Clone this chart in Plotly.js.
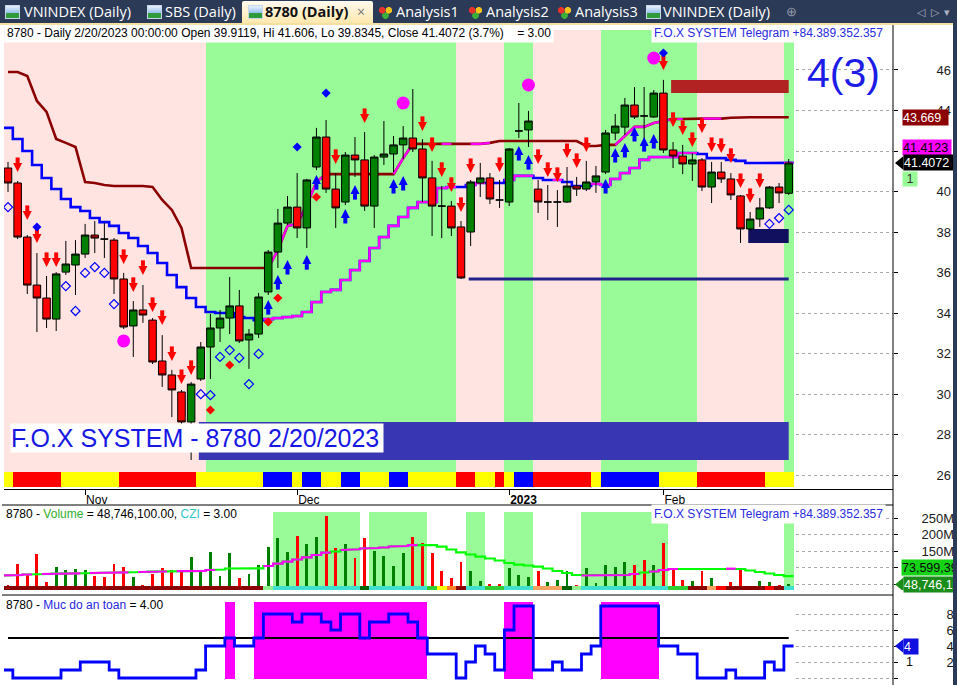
<!DOCTYPE html>
<html>
<head>
<meta charset="utf-8">
<title>8780 (Daily)</title>
<script src="https://cdn.plot.ly/plotly-3.0.1.min.js"></script>
<style>
  html, body { margin:0; padding:0; background:#fff; overflow:hidden; }
  #wrap { position:relative; width:957px; height:685px; overflow:hidden; }
  #chart { position:absolute; left:0; top:0; width:957px; height:685px; }
  #tabs { position:absolute; left:0; top:0; width:957px; height:23px; background:#2b3a56; z-index:3;
          font-family:"Open Sans","Noto Sans",sans-serif; font-size:14.5px; color:#fff; }
  #tabs .tx { position:absolute; top:0; line-height:23px; white-space:nowrap; }
  #tabs .b { font-weight:700; color:#111; }
  #tabs .ico { position:absolute; top:5px; width:15px; height:14px; box-sizing:border-box; }
  #tabs .chartico { background:linear-gradient(to top,#2f9a3a 0,#2f9a3a 38%,#8fbbee 38%,#e8f1fc 100%); border:1px solid #c9d6e8; }
  #tabs .gemico { background:
      radial-gradient(circle at 28% 38%, #e8322c 0, #e8322c 3px, transparent 3.6px),
      radial-gradient(circle at 72% 38%, #f6c21c 0, #f6c21c 3px, transparent 3.6px),
      radial-gradient(circle at 50% 76%, #3cae3a 0, #3cae3a 3px, transparent 3.6px); }
  #tabs .active { position:absolute; top:1px; height:22px; background:linear-gradient(#fffaf0,#ffe8ad); border-radius:2px 2px 0 0; }
  #topline { position:absolute; left:0; top:23px; width:957px; height:2px; background:#f6dfa2; z-index:3; }
  #edge { position:absolute; left:953px; top:23px; width:4px; height:662px; background:#2b3a56; z-index:3; }
</style>
</head>
<body>
<div id="wrap">
  <div id="chart"></div>
  <div id="tabs">
    <div class="ico chartico" style="left:5px"></div><span class="tx" style="left:24px">VNINDEX (Daily)</span>
    <div class="ico chartico" style="left:147px"></div><span class="tx" style="left:165px">SBS (Daily)</span>
    <div class="active" style="left:242px;width:131px"></div>
    <div class="ico chartico" style="left:248px"></div><span class="tx b" style="left:265px">8780 (Daily)</span>
    <span class="tx" style="left:357px;color:#777;font-size:14px">×</span>
    <div class="ico gemico" style="left:378px"></div><span class="tx" style="left:396px">Analysis1</span>
    <div class="ico gemico" style="left:468px"></div><span class="tx" style="left:486px">Analysis2</span>
    <div class="ico gemico" style="left:557px"></div><span class="tx" style="left:575px">Analysis3</span>
    <div class="ico chartico" style="left:646px"></div><span class="tx" style="left:663px">VNINDEX (Daily)</span>
    <span class="tx" style="left:786px;color:#8d96a8;font-size:13px">⊕</span>
    <span class="tx" style="left:917px;color:#aab2c2;font-size:11px">◁&nbsp;&nbsp;▷&nbsp;&nbsp;▾</span>
  </div>
  <div id="topline"></div>
  <div id="edge"></div>
</div>
<script>
// ---------- daily bars 8780 (20 Oct 2022 .. 20 Feb 2023) ----------
const openP = [41.16,40.42,37.75,35.38,34.74,33.70,36.02,36.37,36.91,37.85,
  37.65,37.60,35.68,33.36,34.15,33.65,31.63,30.94,30.10,28.62,
  30.74,32.32,33.26,33.75,34.35,32.67,32.96,35.04,37.01,38.44,
  39.23,38.20,41.21,42.69,40.12,39.48,41.80,41.56,39.28,41.70,
  41.85,42.30,42.64,42.10,40.67,39.28,39.28,38.25,38.00,40.42,
  40.67,39.58,39.48,42.99,43.04,40.12,39.48,39.48,39.48,40.27,
  40.12,40.47,40.96,42.89,43.18,44.27,43.73,43.68,44.86,42.05,
  41.75,41.36,41.56,40.22,40.96,40.62,39.78,38.15,38.64,39.19,
  40.22,39.9119];
const highP = [41.46,40.52,37.85,36.96,35.83,36.02,37.56,37.60,38.40,38.54,
  38.44,37.70,35.98,34.59,35.38,33.75,32.91,31.19,30.20,30.59,
  32.57,33.95,34.15,35.78,35.14,33.21,34.99,37.11,39.14,39.78,
  40.91,40.62,43.14,43.53,40.91,41.95,42.69,42.94,41.80,43.48,
  42.74,43.23,45.06,42.59,41.51,40.27,39.53,38.54,40.57,41.41,
  40.91,40.57,42.15,44.37,43.98,40.57,40.32,40.07,41.21,40.72,
  41.51,41.26,43.04,43.83,44.62,45.16,45.16,45.01,45.51,42.44,
  42.30,41.90,41.65,41.46,41.46,40.91,39.83,38.99,39.68,40.27,
  40.42,41.606];
const lowP = [39.98,37.65,34.94,33.06,33.26,33.11,35.88,34.89,36.72,36.96,
  36.72,34.94,33.21,31.83,33.51,31.48,30.35,28.86,28.52,26.74,
  30.64,30.74,32.57,32.96,32.52,31.24,32.77,34.89,36.22,38.35,
  37.70,37.21,41.06,39.93,38.20,39.33,40.72,39.04,38.20,41.31,
  40.96,41.60,41.95,39.48,37.80,37.70,37.80,35.68,37.31,39.73,
  39.38,39.19,39.28,42.64,42.20,38.94,38.59,38.25,39.43,39.78,
  40.02,39.93,40.86,42.54,42.79,43.58,42.35,43.63,41.90,41.16,
  40.86,40.52,40.02,39.43,40.42,39.58,37.46,38.05,38.25,39.14,
  39.43,39.8345];
const closeP = [40.42,37.75,35.38,34.74,33.70,35.93,36.42,36.91,37.85,37.70,
  37.65,35.68,33.31,34.15,33.90,31.58,30.94,30.20,28.62,30.49,
  32.32,33.26,33.75,34.35,32.62,32.96,34.79,37.01,38.44,39.23,
  38.20,40.57,42.69,40.12,39.19,41.80,41.56,39.28,41.70,41.85,
  42.30,42.64,42.10,40.67,39.28,39.28,38.20,35.73,40.47,40.67,
  39.63,39.58,42.10,42.99,43.48,39.48,39.48,39.48,40.27,40.12,
  40.47,40.77,42.89,43.23,44.27,43.68,43.73,44.86,42.05,41.75,
  41.36,41.56,40.22,40.96,40.62,39.83,38.15,38.64,39.19,40.22,
  39.93,41.4072];

// trailing resistance / support lines
const upperLine = [45.90,45.90,45.70,44.47,43.93,42.59,42.40,42.20,40.47,40.42,
  40.32,40.27,40.27,40.27,40.27,40.22,39.58,39.09,38.20,36.22,
  36.22,36.22,36.22,36.22,36.22,36.22,36.22,36.22,37.11,38.30,
  38.40,39.33,40.47,40.86,40.86,40.86,40.86,40.86,40.86,40.86,
  40.86,41.65,42.35,42.35,42.35,42.35,42.35,42.35,42.35,42.35,
  42.40,42.49,42.49,42.49,42.49,42.49,42.49,42.49,42.49,42.49,
  42.25,42.25,42.30,42.30,42.74,43.19,43.19,43.38,43.48,43.58,
  43.58,43.60,43.60,43.60,43.60,43.64,43.669,43.669,43.669,43.669,
  43.669,43.669];
const upperMagentaSeg = [28,29,31,32,33,41,42,46,49,50,64,65,66,67,68,69,70,73,74];
const lowerLine = [43.14,42.59,42.00,41.31,40.67,40.12,39.63,39.23,39.04,38.69,
  38.49,38.30,37.95,37.70,37.31,36.96,36.47,35.88,35.28,34.74,
  34.30,34.05,34.00,34.00,33.80,33.75,33.65,33.70,33.75,33.80,
  33.85,34.05,34.54,35.04,35.14,35.63,36.12,36.57,37.21,37.75,
  38.30,38.74,39.19,39.48,39.48,40.17,40.22,40.22,40.32,40.42,
  40.42,40.42,40.57,40.77,40.77,40.67,40.57,40.57,40.47,40.27,
  40.27,40.37,40.32,40.62,40.91,41.16,41.56,41.70,41.70,41.70,
  41.90,41.90,41.85,41.65,41.65,41.56,41.51,41.41,41.41,41.41,
  41.41,41.4123];
const lowerMagentaRuns = [[27,46],[48,49],[52,54],[57,57],[61,71],[81,81]];

// background state per bar (g = green, p = pink) and trend ribbon (Y/R/B)
const mainBandRuns = [['p',21],['g',26],['p',5],['g',3],['p',7],['g',10],['p',9],['g',1]];
const mainStripRuns = [['Y',1],['R',5],['Y',6],['R',8],['Y',7],['B',3],['Y',1],['B',2],['Y',2],['B',2],
  ['Y',3],['B',2],['Y',5],['R',2],['Y',2],['R',1],['Y',1],['B',2],['R',6],['Y',1],['B',6],['Y',4],['R',7],['Y',3]];

// signals
const sellBars  = [1,2,3,4,5,12,13,14,15,16,17,18,19,34,37,43,44,45,46,47,48,51,55,56,57,58,59,60,68,69,70,71,72,73,74,75,76,77,78];
const sellLevel = [40.96,38.59,37.46,36.27,36.27,36.42,35.04,35.88,34.05,33.41,31.63,30.49,30.94,41.36,43.38,42.99,41.95,40.72,39.98,38.99,
  40.91,40.96,41.36,40.72,40.47,41.65,41.16,41.95,46.00,43.19,42.79,42.20,42.89,41.95,41.90,41.41,40.17,39.43,40.17];
const buyBars  = [27,28,29,31,32,35,36,40,41,53,54,62,63,64,65,66,67];
const buyLevel = [34.64,35.88,36.62,36.86,40.81,39.14,40.32,40.62,40.77,42.25,41.80,40.62,42.15,42.40,43.19,42.69,42.84];
const ringBars  = [0,6,7,8,9,10,11,20,21,22,23,24,25,26,79,80,81];
const ringLevel = [39.23,35.33,34.10,35.98,36.27,35.98,34.44,29.99,29.94,31.83,32.17,31.78,30.49,31.98,38.40,38.69,39.09];
const blueDotBars = [3,30,33,68],  blueDotLevel = [38.25,42.20,44.86,46.84];
const redDotBars  = [21,23,27,28,32], redDotLevel = [29.21,31.43,33.56,34.74,39.73];
const pinkDotBars = [12,41,54,67], pinkDotLevel = [32.62,44.37,45.26,46.59];

// bars that anchor the zones
const zoneBars = { demandLow: 19, supportLine: 47, supply: 68, demand: 76 };

// volume panel (millions of shares)
const vol = [47,110,77,141,55,102,92,95,92,74, 72,110,102,72,47,80,97,92,92,133,
  92,148,75,143,69,80,108,163,190,146, 195,171,191,256,158,171,128,188,150,135,
  105,143,191,173,143,89,67,116,89,60, 50,49,99,77,71,89,55,62,89,47,
  99,52,108,102,118,108,123,108,173,97, 62,59,89,69,36,55,95,40,59,55,
  47,48.7461];
const volUp = [0,0,0,0,0,1,1,1,1,0, 0,0,0,1,0,0,0,0,0,1, 1,1,1,1,0,1,1,1,1,1,
  0,1,1,0,0,1,0,0,1,1, 1,1,0,0,0,0,0,0,1,1, 0,0,1,1,1,0,1,1,1,0,
  1,1,1,1,1,0,0,1,0,0, 0,1,0,1,0,0,0,1,1,1, 0,1];
const volMA = [75.8,77.3,78.8,80.3,80.3,81.2,81.8,82.4,83.3,83.3, 84.2,84.8,85.5,86.4,86.4,87.3,87.9,88.5,88.8,89.4,
  89.4,92.4,93.9,97.0,97.6,97.6,97.6,104.5,112.0,117.6, 124.2,130.9,137.9,144.8,148.5,153.0,155.2,157.6,159.0,160.6,
  163.6,165.0,168.0,169.7,168.0,163.0,154.5,146.0,139.4,132.7, 127.3,121.2,113.6,109.0,106.0,102.4,97.0,89.4,83.3,77.3,
  75.8,75.2,75.2,75.2,77.3,80.3,84.8,87.9,92.4,95.5, 97.0,97.6,97.6,97.6,97.0,96.4,95.5,90.9,86.4,81.8,
  77.3,73.599394];
const volMAMagentaRuns = [[0,2],[4,7],[9,12],[14,16],[18,21],[27,33],[35,42],[60,65],[67,69],[75,75]];
const volBandRuns = [['w',28],['g',9],['w',1],['g',6],['w',4],['g',2],['w',2],['g',3],['w',5],['g',9],['w',12],['g',1]];
const volStripRuns = [['DR',27],['LG',1],['TQ',9],['DG',1],['TQ',6],['LM',1],['YE',1],['OR',1],['DR',1],['TQ',2],
  ['LM',2],['TQ',3],['SA',3],['DG',1],['LG',1],['TQ',9],['LM',2],['DR',2],['SA',1],['RE',1],['DR',4],['RE',1],['DR',1],['TQ',1]];
const volTicks = [50, 100, 150, 200, 250];
const volTickText = ['50M', '100M', '150M', '200M', '250M'];

// safety level panel
const safety = [1,0,0,0,0,0,1,1,2,2, 2,1,0,0,0,0,0,0,0,0, 1,4,4,5,4,4,5,8,8,8,
  7,8,8,7,6,8,8,5,7,7, 8,8,7,5,3,3,3,0,2,4, 3,1,6,9,9,1,1,2,1,1,
  3,4,9,9,9,9,9,9,4,4, 3,3,0,0,0,1,0,0,0,2, 1,4];
const safetyThreshold = 5;

// axis labels
const monthTickBars = [8, 30, 52, 68];
const monthTickText = ['Nov', 'Dec', '<b>2023</b>', 'Feb'];

// ---------- helpers ----------
const N = openP.length, last = N - 1;
const bars = openP.map((_, i) => i);
const expand = runs => runs.flatMap(([c, n]) => Array(n).fill(c));
const runsMask = runs => bars.map(i => runs.some(([a, b]) => i >= a && i <= b));
function stair(vals, mask) {           // horizontal step per bar, vertical jumps at bar edges
  const x = [], y = [];
  for (let i = 0; i < vals.length; i++) {
    if (!mask[i]) { if (x.length && x[x.length - 1] !== null) { x.push(null); y.push(null); } continue; }
    x.push(i - 0.5, i + 0.5); y.push(vals[i], vals[i]);
  }
  return { x, y };
}
const PX = px => px / 957, PY = py => (685 - py) / 685;
const FONT = 'Liberation Sans, Arial, sans-serif';

const BAND = { g: '#98FB98', p: '#FFE4E1', w: '#FFFFFF' };
const RIB = { Y: '#FFFF00', R: '#FF0000', B: '#0000FF' };
const VSTRIP = { DR: '#8B0000', LG: '#90EE90', TQ: '#40E0D0', DG: '#006400', LM: '#32CD32',
                 YE: '#FFFF00', OR: '#FF7F27', SA: '#F4A460', RE: '#FF0000' };

// ---------- axes ----------
const xr = [-0.415, 91.82];
const mainRange = [25.309, 47.975];
const volRange = [31.82, 289.4];
const safRange = [-0.875, 10.375];
const ribbonBase = 25.41, ribbonTop = 26.15;
const volBandTop = 268.2, volStripTop = 43.9;
const pxPerUnitMain = 20.25, pxPerMVol = 0.33, pxPerUnitSaf = 8;

const traces = [];

// main panel background bands and trend ribbon
const mainBand = expand(mainBandRuns);
traces.push({ type: 'bar', x: bars, base: ribbonTop, y: bars.map(() => mainRange[1] + 1 - ribbonTop), width: 1,
  marker: { color: mainBand.map(c => BAND[c]), line: { width: 0 } }, xaxis: 'x', yaxis: 'y', hoverinfo: 'skip' });
traces.push({ type: 'bar', x: bars, base: ribbonBase, y: bars.map(() => ribbonTop - ribbonBase), width: 1,
  marker: { color: expand(mainStripRuns).map(c => RIB[c]), line: { width: 0 } }, xaxis: 'x', yaxis: 'y', hoverinfo: 'skip' });

// zones
function zone(bar, top, bottom, color) {
  const x0 = bar + 0.8, x1 = last;
  traces.push({ type: 'scatter', mode: 'lines', x: [x0, x1, x1, x0, x0], y: [top, top, bottom, bottom, top],
    fill: 'toself', fillcolor: color, line: { width: 0 }, xaxis: 'x', yaxis: 'y', hoverinfo: 'skip' });
}
zone(zoneBars.demandLow, openP[zoneBars.demandLow], lowP[zoneBars.demandLow], '#3836B2');
zone(zoneBars.supply, highP[zoneBars.supply], openP[zoneBars.supply], '#B22222');
zone(zoneBars.demand, closeP[zoneBars.demand], lowP[zoneBars.demand], '#10105E');
traces.push({ type: 'scatter', mode: 'lines', x: [zoneBars.supportLine + 0.8, last],
  y: [lowP[zoneBars.supportLine], lowP[zoneBars.supportLine]], line: { color: '#22228C', width: 3 },
  xaxis: 'x', yaxis: 'y', hoverinfo: 'skip' });

// trailing lines
traces.push({ type: 'scatter', mode: 'lines', x: bars, y: upperLine, line: { color: '#8B0000', width: 2.6 },
  xaxis: 'x', yaxis: 'y', hoverinfo: 'skip' });
const segSet = new Set(upperMagentaSeg);
traces.push({ type: 'scatter', mode: 'lines', x: bars,
  y: upperLine.map((v, j) => (segSet.has(j) || segSet.has(j + 1)) ? v : null),
  line: { color: '#FF00FF', width: 2.2 }, connectgaps: false, xaxis: 'x', yaxis: 'y', hoverinfo: 'skip' });
const lowAll = stair(lowerLine, bars.map(() => true));
traces.push({ type: 'scatter', mode: 'lines', x: lowAll.x, y: lowAll.y, line: { color: '#0000FF', width: 2.6 },
  xaxis: 'x', yaxis: 'y', hoverinfo: 'skip' });
const lowMag = stair(lowerLine, runsMask(lowerMagentaRuns));
traces.push({ type: 'scatter', mode: 'lines', x: lowMag.x, y: lowMag.y, line: { color: '#FF00FF', width: 2.2 },
  xaxis: 'x', yaxis: 'y', hoverinfo: 'skip' });

// candles (overlay axis so they sit above the lines)
traces.push({ type: 'candlestick', x: bars, open: openP, high: highP, low: lowP, close: closeP,
  xaxis: 'x', yaxis: 'y4', whiskerwidth: 0, hoverinfo: 'skip',
  increasing: { line: { color: '#000', width: 1 }, fillcolor: '#008000' },
  decreasing: { line: { color: '#000', width: 1 }, fillcolor: '#FF0000' } });

// signal markers
const stemOff = 11.8 / pxPerUnitMain;
function mk(x, y, symbol, size, color) {
  traces.push({ type: 'scatter', mode: 'markers', x, y, xaxis: 'x', yaxis: 'y4', hoverinfo: 'skip',
    marker: { symbol, size, color, line: { width: 0 } } });
}
mk(sellBars, sellLevel, 'arrow-down', 9, '#FF0000');
traces.push({ type: 'scatter', mode: 'markers', x: sellBars, y: sellLevel.map(v => v + stemOff), xaxis: 'x', yaxis: 'y4',
  hoverinfo: 'skip', marker: { symbol: 'line-ns', size: 4, line: { color: '#FF0000', width: 4 } } });
mk(buyBars, buyLevel, 'arrow-up', 9, '#0000FF');
traces.push({ type: 'scatter', mode: 'markers', x: buyBars, y: buyLevel.map(v => v - stemOff), xaxis: 'x', yaxis: 'y4',
  hoverinfo: 'skip', marker: { symbol: 'line-ns', size: 4, line: { color: '#0000FF', width: 4 } } });
traces.push({ type: 'scatter', mode: 'markers', x: ringBars, y: ringLevel, xaxis: 'x', yaxis: 'y4', hoverinfo: 'skip',
  marker: { symbol: 'diamond-open', size: 7, color: '#0000FF', line: { color: '#0000FF', width: 1.2 } } });
mk(blueDotBars, blueDotLevel, 'diamond', 7, '#0000FF');
mk(redDotBars, redDotLevel, 'diamond', 7, '#FF0000');
mk(pinkDotBars, pinkDotLevel, 'circle', 13, '#FF00FF');

// ---------- volume panel ----------
traces.push({ type: 'bar', x: bars, base: volRange[0], y: bars.map(() => volRange[1] - volRange[0] + 5), width: 1,
  marker: { color: '#FFFFFF', line: { width: 0 } }, xaxis: 'x2', yaxis: 'y2', hoverinfo: 'skip' });
traces.push({ type: 'bar', x: bars, base: volRange[0], y: bars.map(() => volBandTop - volRange[0]), width: 1,
  marker: { color: expand(volBandRuns).map(c => BAND[c]), line: { width: 0 } }, xaxis: 'x2', yaxis: 'y2', hoverinfo: 'skip' });
traces.push({ type: 'bar', x: bars, y: vol, width: 0.3,
  marker: { color: volUp.map(u => u ? '#008000' : '#FF0000'), line: { width: 0 } }, xaxis: 'x2', yaxis: 'y2', hoverinfo: 'skip' });
traces.push({ type: 'bar', x: bars, base: volRange[0], y: bars.map(() => volStripTop - volRange[0]), width: 1,
  marker: { color: expand(volStripRuns).map(c => VSTRIP[c]), line: { width: 0 } }, xaxis: 'x2', yaxis: 'y2', hoverinfo: 'skip' });
const maAll = stair(volMA, bars.map(() => true));
traces.push({ type: 'scatter', mode: 'lines', x: maAll.x, y: maAll.y, line: { color: '#00FF00', width: 2.2 },
  xaxis: 'x2', yaxis: 'y2', hoverinfo: 'skip' });
const maMag = stair(volMA, runsMask(volMAMagentaRuns));
traces.push({ type: 'scatter', mode: 'lines', x: maMag.x, y: maMag.y, line: { color: '#FF00FF', width: 2.2 },
  xaxis: 'x2', yaxis: 'y2', hoverinfo: 'skip' });

// ---------- safety panel ----------
traces.push({ type: 'bar', x: bars, base: safRange[0], y: bars.map(() => safRange[1] - safRange[0] + 1), width: 1,
  marker: { color: '#FFFFFF', line: { width: 0 } }, xaxis: 'x3', yaxis: 'y3', hoverinfo: 'skip' });
traces.push({ type: 'bar', x: bars, base: -0.125, y: bars.map(() => 9.625), width: 1,
  marker: { color: safety.map(v => v >= safetyThreshold ? '#FF00FF' : 'rgba(0,0,0,0)'), line: { width: 0 } },
  xaxis: 'x3', yaxis: 'y3', hoverinfo: 'skip' });
traces.push({ type: 'scatter', mode: 'lines', x: [0, last], y: [safetyThreshold, safetyThreshold],
  line: { color: '#000', width: 2 }, xaxis: 'x3', yaxis: 'y3', hoverinfo: 'skip' });
const safStep = stair(safety, bars.map(() => true));
traces.push({ type: 'scatter', mode: 'lines', x: safStep.x, y: safStep.y, line: { color: '#0000FF', width: 2.8 },
  xaxis: 'x3', yaxis: 'y3', hoverinfo: 'skip' });

// ---------- layout ----------
const xDom = [PX(4), PX(893)];
const rightAxis = (extra) => Object.assign({ side: 'right', ticks: 'outside', ticklen: 4, tickcolor: '#000',
  showgrid: true, gridcolor: '#A9A9A9', griddash: 'dot', gridwidth: 1, zeroline: false, showline: false,
  tickfont: { family: FONT, size: 13, color: '#1a1a1a' }, fixedrange: true }, extra);

const chg = ((closeP[last] / closeP[last - 1] - 1) * 100).toFixed(1);
const fmt0 = m => Math.round(m * 1e6).toLocaleString('en-US');
const fmt2 = m => (Math.round(m * 1e6)).toLocaleString('en-US', { minimumFractionDigits: 2, maximumFractionDigits: 2 });
const tg = 'F.O.X SYSTEM Telegram +84.389.352.357';

function label(text, y, yref, bg, fg, x0, width, yshift) {
  return { xref: 'paper', yref, x: PX(x0), y, xanchor: 'left', yanchor: 'middle', text, showarrow: false,
    bgcolor: bg, font: { family: FONT, size: 12.5, color: fg }, width, height: 15, align: 'left', borderpad: 0,
    yshift: yshift || 0 };
}
function tip(yref, y, half, color) {
  return { type: 'path', xref: 'paper', yref, layer: 'above', fillcolor: color, line: { width: 0 },
    path: `M ${PX(895)},${y} L ${PX(903.5)},${y + half} L ${PX(903.5)},${y - half} Z` };
}

const annotations = [
  { xref: 'paper', yref: 'paper', x: PX(4), y: PY(33), xanchor: 'left', yanchor: 'middle', showarrow: false,
    text: `8780 - Daily 2/20/2023 00:00:00 Open ${openP[last]}, Hi ${highP[last]}, Lo ${lowP[last]}, Close ${closeP[last]} (${chg}%)&nbsp;&nbsp;&nbsp;&nbsp;= 3.00`,
    bgcolor: '#FFFFFF', borderpad: 2, font: { family: FONT, size: 12, color: '#000' } },
  { xref: 'paper', yref: 'paper', x: PX(651), y: PY(33), xanchor: 'left', yanchor: 'middle', showarrow: false,
    text: tg, bgcolor: '#FFFFFF', borderpad: 2, font: { family: FONT, size: 12, color: '#2A2AE0' } },
  { xref: 'paper', yref: 'paper', x: PX(843), y: PY(73), xanchor: 'center', yanchor: 'middle', showarrow: false,
    text: '4(3)', font: { family: FONT, size: 41, color: '#1C1CE6' } },
  { xref: 'paper', yref: 'paper', x: PX(10), y: PY(438), xanchor: 'left', yanchor: 'middle', showarrow: false,
    text: 'F.O.X SYSTEM - 8780 2/20/2023', bgcolor: '#FFFFFF', borderpad: 0, width: 372, height: 28, align: 'left',
    font: { family: FONT, size: 25, color: '#1717E5' } },
  label(String(upperLine[last]), upperLine[last], 'y', '#8B0000', '#FFFFFF', 902, 45),
  label(String(lowerLine[last]), lowerLine[last], 'y', '#FF00FF', '#000000', 902, 48, 15),
  label(String(closeP[last]), closeP[last], 'y', '#000000', '#FFFFFF', 903, 52),
  { xref: 'paper', yref: 'paper', x: PX(902), y: PY(179), xanchor: 'left', yanchor: 'middle', showarrow: false,
    text: '1', bgcolor: '#98FB98', width: 14, height: 14, borderpad: 0, font: { family: FONT, size: 12.5, color: '#333' } },
  // volume panel
  { xref: 'paper', yref: 'paper', x: PX(4), y: PY(514), xanchor: 'left', yanchor: 'middle', showarrow: false,
    text: `8780 - <span style="color:#2EAD2E">Volume</span> = ${fmt2(vol[last])}, <span style="color:#33C6C6">CZI</span> = 3.00`,
    font: { family: FONT, size: 12, color: '#000' } },
  { xref: 'paper', yref: 'paper', x: PX(651), y: PY(514), xanchor: 'left', yanchor: 'middle', showarrow: false,
    text: tg, bgcolor: '#FFFFFF', borderpad: 2, font: { family: FONT, size: 12, color: '#2A2AE0' } },
  label(fmt0(volMA[last]), volMA[last], 'y2', '#14D214', '#0A0A0A', 901, 60, 9),
  label(fmt0(vol[last]), vol[last], 'y2', '#1A8C1A', '#FFFFFF', 903, 60),
  // safety panel
  { xref: 'paper', yref: 'paper', x: PX(4), y: PY(605), xanchor: 'left', yanchor: 'middle', showarrow: false,
    text: `8780 - <span style="color:#1F1FE0">Muc do an toan</span> = ${safety[last].toFixed(2)}`,
    font: { family: FONT, size: 12, color: '#000' } },
  label(String(safety[last]), safety[last], 'y3', '#1010E0', '#FFFFFF', 903, 14),
  { xref: 'paper', yref: 'paper', x: PX(909), y: PY(662), xanchor: 'center', yanchor: 'middle', showarrow: false,
    text: '1', font: { family: FONT, size: 12.5, color: '#111' } }
];

const shapes = [
  tip('y', closeP[last], 7 / pxPerUnitMain, '#000000'),
  tip('y2', vol[last], 7 / pxPerMVol, '#1A8C1A'),
  tip('y3', safety[last], 7 / pxPerUnitSaf, '#1010E0'),
  { type: 'line', xref: 'paper', yref: 'paper', x0: PX(893), x1: PX(893), y0: PY(24), y1: PY(685), line: { color: '#000', width: 1 }, layer: 'above' },
  { type: 'line', xref: 'paper', yref: 'paper', x0: PX(2), x1: PX(893), y0: PY(505), y1: PY(505), line: { color: '#000', width: 1 }, layer: 'above' },
  { type: 'line', xref: 'paper', yref: 'paper', x0: PX(2), x1: PX(893), y0: PY(595), y1: PY(595), line: { color: '#000', width: 1 }, layer: 'above' }
];

const layout = {
  width: 957, height: 685, margin: { l: 0, r: 0, t: 0, b: 0 },
  paper_bgcolor: '#FFFFFF', plot_bgcolor: '#FFFFFF', showlegend: false, hovermode: false,
  barmode: 'overlay', bargap: 0, boxgap: 0.22, boxgroupgap: 0,
  font: { family: FONT, size: 12, color: '#000' },
  xaxis: { domain: xDom, range: xr, anchor: 'y', tickvals: monthTickBars, ticktext: monthTickText,
    ticks: 'outside', ticklen: 5, tickcolor: '#000', ticklabelposition: 'outside right',
    showline: true, linecolor: '#000', linewidth: 1, showgrid: false, zeroline: false,
    rangeslider: { visible: false }, tickfont: { family: FONT, size: 12, color: '#000' }, fixedrange: true },
  xaxis2: { domain: xDom, range: xr, anchor: 'y2', showticklabels: false, ticks: '', showgrid: false, zeroline: false, showline: false, fixedrange: true },
  xaxis3: { domain: xDom, range: xr, anchor: 'y3', showticklabels: false, ticks: '', showgrid: false, zeroline: false, showline: false, fixedrange: true },
  yaxis: rightAxis({ domain: [PY(489), PY(30)], range: mainRange, anchor: 'x', tickvals: [26,28,30,32,34,36,38,40,42,44,46], ticklabelstandoff: 36 }),
  yaxis4: { domain: [PY(489), PY(30)], range: mainRange, overlaying: 'y', anchor: 'x', visible: false, fixedrange: true },
  yaxis2: rightAxis({ domain: [PY(590), PY(505)], range: volRange, anchor: 'x2', tickvals: volTicks, ticktext: volTickText, ticklabelstandoff: 21 }),
  yaxis3: rightAxis({ domain: [PY(685), PY(595)], range: safRange, anchor: 'x3', tickvals: [0,2,4,6,8], ticklabelstandoff: 46 }),
  annotations, shapes
};

Plotly.newPlot('chart', traces, layout, { staticPlot: true, displayModeBar: false });
</script>
</body>
</html>
